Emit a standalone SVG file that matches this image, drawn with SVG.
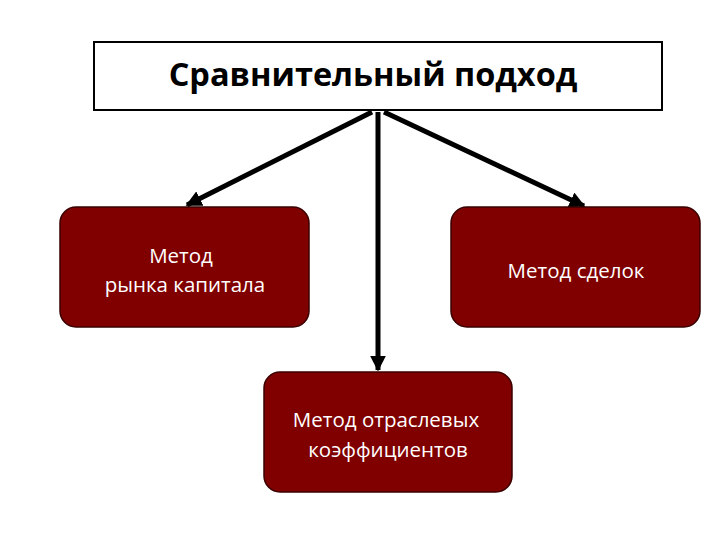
<svg xmlns="http://www.w3.org/2000/svg" width="720" height="540" viewBox="0 0 720 540">
<style>
.node{fill:#800000;stroke:#3a0000;stroke-width:1.5}
.lbl{font-family:"Open Sans","Noto Sans",sans-serif;font-size:20.5px;fill:#fff;text-anchor:middle}
.title{font-family:"Open Sans","Noto Sans",sans-serif;font-size:32.5px;font-weight:bold;fill:#000;text-anchor:middle}
.conn{stroke:#000;stroke-width:5;fill:none}
</style>
<defs>
<marker id="ah" viewBox="0 0 10 10" refX="9" refY="5" markerWidth="3.2" markerHeight="3.2" orient="auto" markerUnits="strokeWidth">
<path d="M0,0 L10,5 L0,10 z" fill="#000"/>
</marker>
</defs>
<rect width="720" height="540" fill="#fff"/>
<g id="connectors">
<line class="conn" x1="372" y1="112" x2="187" y2="205" marker-end="url(#ah)"/>
<line class="conn" x1="384" y1="112" x2="584" y2="206" marker-end="url(#ah)"/>
<line class="conn" x1="378" y1="112" x2="378" y2="370" marker-end="url(#ah)"/>
</g>
<g id="title">
<rect x="94" y="42" width="568" height="68" fill="#fff" stroke="#000" stroke-width="2"/>
<text class="title" x="373" y="86">Сравнительный подход</text>
</g>
<g id="market">
<rect class="node" x="60" y="207" width="249" height="120" rx="16"/>
<text class="lbl" x="181" y="263">Метод</text>
<text class="lbl" x="185" y="292">рынка капитала</text>
</g>
<g id="deals">
<rect class="node" x="451" y="207" width="249" height="120" rx="16"/>
<text class="lbl" x="576" y="278">Метод сделок</text>
</g>
<g id="industry">
<rect class="node" x="264" y="372" width="248" height="120" rx="16"/>
<text class="lbl" x="386" y="427">Метод отраслевых</text>
<text class="lbl" x="388" y="457">коэффициентов</text>
</g>
</svg>
